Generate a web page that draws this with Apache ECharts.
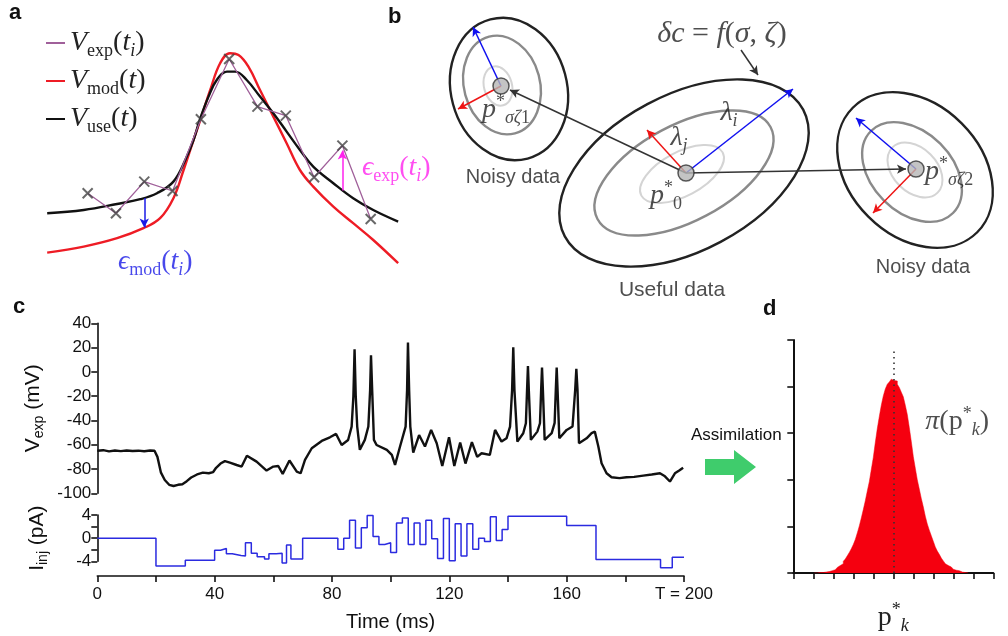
<!DOCTYPE html>
<html><head><meta charset="utf-8">
<script src="https://cdn.jsdelivr.net/npm/echarts@6/dist/echarts.min.js"></script>
<style>html,body{margin:0;padding:0;background:#fff}#c{width:1008px;height:636px}</style>
</head><body><div id="c"></div>
<script>
// ---------- Panel a : sample times, experimental points, model / useful curves ----------
const aCrossT = [1, 2, 3, 4, 5, 6, 7, 8, 9, 10, 11];
const aCrossV = [38.4, 28.4, 44.2, 39.5, 75.4, 105.5, 81.7, 77.2, 46.4, 62.2, 25.5];
const aUseT = [-0.43, 0.86, 2.04, 2.86, 3.45, 4.03, 4.45, 4.74, 4.98, 5.27, 5.56, 5.92, 6.21, 6.62, 7.09, 7.56, 8.03, 8.5, 8.97, 9.68, 10.38, 11.09, 11.97];
const aUseV = [28.4, 30, 33, 35.4, 38.4, 44.2, 55, 65, 75.9, 86.7, 95, 99.2, 99.2, 95, 86.7, 78.4, 69.2, 60, 51.7, 43.4, 35.9, 30, 24.2];
const aModT = [-0.43, 0.86, 2.04, 2.97, 3.56, 4.03, 4.39, 4.74, 4.98, 5.33, 5.68, 6.03, 6.33, 6.68, 7.09, 7.56, 8.03, 8.5, 8.97, 9.68, 10.38, 11.09, 11.97];
const aModV = [8.7, 11.7, 15.9, 20.9, 25.9, 35.9, 50, 65, 75, 90, 103.4, 108.4, 107.5, 101.7, 90, 76.7, 63.4, 50, 41.7, 31.7, 23.4, 15, 3.4];
const aEpsModT = 3, aEpsModFrom = 36.0, aEpsModTo = 21.2;
const aEpsExpT = 10, aEpsExpFrom = 39.7, aEpsExpTo = 59.7;

// ---------- Panel b : schematic contours (diagram units) ----------
const bRingX     = [89, 82, 78, 264, 264, 262, 495, 492, 495];
const bRingY     = [89, 85, 86, 173, 173, 174, 170, 172, 170];
const bRingA     = [72, 50, 20, 135, 98, 46, 88, 58, 32];
const bRingB     = [58, 38, 14, 78, 48, 22, 66, 40, 22];
const bRingAngle = [105, 105, 105, 28, 28, 28, 135, 135, 135];
const bRingLevel = [0, 1, 2, 0, 1, 2, 0, 1, 2];
const bDotX = [81, 266, 496];
const bDotY = [86, 173, 169];
const bArrowFrom = [[81, 86], [266, 173], [496, 169], [81, 86], [266, 173], [496, 169], [266, 173], [266, 173], [321, 50]];
const bArrowTo   = [[53, 27], [373, 89], [436, 118], [38, 109], [227, 130], [453, 213], [90, 90], [486, 169], [338, 75]];
const bArrowKind = [0, 0, 0, 1, 1, 1, 2, 2, 2];

// ---------- Panel c : recorded voltage and injected current ----------
const vTime = [0, 2, 4, 6, 8, 10, 12, 14, 16, 18, 19.5, 20.5, 21.7, 23, 24.5, 26, 27.5, 29, 30.5, 32, 34, 36, 38, 39.5, 40.5, 42, 43.5, 45.2, 47.5, 49.2, 51, 51.5, 54.3, 57.7, 60, 61.7, 63.2, 65.5, 68, 69.3, 70.8, 73.1, 76.5, 79.3, 81.4, 83.3, 85.5, 86.7, 87.3, 87.7, 88.1, 88.6, 89.5, 91.2, 92.4, 93.0, 93.3, 93.7, 94.3, 95.2, 98.7, 100.4, 101.5, 103.2, 105.1, 105.6, 105.9, 106.3, 106.7, 107.7, 109.7, 111.7, 113.8, 115.7, 117.6, 119.9, 121.7, 123.7, 125.5, 127.7, 129.5, 131, 133.8, 135.6, 137.8, 139.5, 140.7, 141.4, 141.8, 142.2, 143.2, 145.2, 146.1, 146.5, 146.8, 147.1, 147.8, 150, 150.9, 151.3, 151.6, 151.9, 152.5, 154.9, 155.9, 156.3, 156.6, 156.9, 157.5, 160, 162, 162.9, 163.3, 163.7, 164.2, 166.8, 168.5, 169.6, 170.8, 171.9, 173.6, 175.3, 178, 180.4, 183, 186.1, 189, 191.8, 193.5, 195.2, 196.9, 198.5, 199.7];
const vMv = [-65, -64.5, -65.5, -64.8, -65.3, -64.7, -65.2, -64.9, -65.4, -64.8, -65, -70, -83, -89, -93, -94, -93, -92.5, -90, -87, -84.5, -83, -83.5, -82.5, -79, -75.5, -73.5, -74.8, -76.7, -78, -69, -68.4, -73.9, -81.3, -78, -77.5, -84, -73, -82.1, -83.5, -72.5, -62.9, -56.9, -53.9, -51.1, -60.2, -56.1, -45.1, -20, 18.6, -20, -45, -64.2, -56, -45, -15, 13.7, -15, -56, -60.2, -64.3, -68.4, -76.6, -61.5, -45.1, -15, 24.1, -15, -45, -66.5, -52, -61.5, -47.8, -58.8, -77.5, -53.9, -77.5, -58.2, -75.5, -57.8, -70, -67, -68.4, -47.8, -57.4, -54.7, -45.1, -15, 20.3, -15, -57.4, -50.5, -42.3, -15, 4.9, -15, -56, -49.2, -42.3, -15, 3.6, -15, -56, -50.5, -42, -15, 3.6, -15, -54.7, -47.8, -45, -15, 2.5, -15, -58.8, -54.7, -50.5, -49.2, -61.5, -75.2, -83.5, -86.8, -87.5, -86.8, -86.5, -85.4, -84.5, -83.5, -86, -90.3, -83.5, -81, -78.9];
const iTime = [0, 20, 30, 40, 42, 44, 46, 49, 50.5, 52.5, 54.5, 57, 58.5, 61, 63, 64.5, 66, 70, 82, 84, 86, 88, 90, 92, 94, 96, 98, 100, 102, 104, 106, 108, 110, 112, 114, 116, 118, 120, 122, 124, 126, 128, 130, 132, 134, 136, 138, 140, 160, 170, 192, 196, 200];
const iPa   = [0, -4.8, -3.8, -2.1, -1.8, -2.7, -3.0, -3.1, -0.8, -2.6, -3.2, -3.6, -2.7, -2.6, -4.3, -1.2, -3.6, 0, -1.9, 0, 3.1, -1.7, 1.8, 3.9, 0.3, -1.1, -0.8, -2.5, 2.6, 3.5, -1.1, 2.6, -1.1, 3.1, -0.1, -3.5, 3.4, -3.9, 2.5, -3.1, 2.5, -1.9, 0, -0.6, 3.7, -0.4, 1.5, 3.8, 2.2, -3.7, -5.1, -3.3, -3.3];

// ---------- Panel d : posterior histogram ----------
const hBin = [1.05, 1.15, 1.25, 1.35, 1.45, 1.55, 1.65, 1.75, 1.85, 1.95, 2.05, 2.15, 2.25, 2.35, 2.45, 2.55, 2.65, 2.75, 2.85, 2.95, 3.05, 3.15, 3.25, 3.35, 3.45, 3.55, 3.65, 3.75, 3.85, 3.95, 4.05, 4.15, 4.25, 4.35, 4.45, 4.55, 4.65, 4.75, 4.85, 4.95, 5.05, 5.15, 5.25, 5.35, 5.45, 5.55, 5.65, 5.75, 5.85, 5.95, 6.05, 6.15, 6.25, 6.35, 6.45, 6.55, 6.65, 6.75, 6.85, 6.95, 7.05, 7.15, 7.25, 7.35, 7.45, 7.55, 7.65, 7.75, 7.85, 7.95, 8.05, 8.15, 8.25, 8.35, 8.45, 8.55, 8.65, 8.75];
const hCount = [0, 0, 0.01, 0.01, 0.01, 0.02, 0.02, 0.03, 0.04, 0.05, 0.07, 0.09, 0.12, 0.16, 0.2, 0.25, 0.3, 0.37, 0.44, 0.52, 0.61, 0.72, 0.86, 1.01, 1.18, 1.36, 1.55, 1.76, 1.96, 2.22, 2.48, 2.8, 3.1, 3.36, 3.6, 3.8, 3.95, 4.05, 4.1, 4.16, 4.13, 4.12, 4.05, 3.98, 3.88, 3.78, 3.6, 3.4, 3.12, 2.82, 2.5, 2.25, 2.0, 1.8, 1.6, 1.42, 1.22, 1.05, 0.92, 0.8, 0.68, 0.56, 0.47, 0.4, 0.32, 0.26, 0.2, 0.16, 0.13, 0.1, 0.08, 0.06, 0.05, 0.03, 0.02, 0.01, 0.01, 0];
const hMean = 5, hMeanTop = 4.83;

// ---------- styles ----------
const SERIF = 'Liberation Serif, DejaVu Serif, serif';
const SANS = 'Liberation Sans, Arial, sans-serif';
const mathRich = {
  i:  {fontFamily: SERIF, fontStyle: 'italic', fontSize: 28, lineHeight: 34},
  n:  {fontFamily: SERIF, fontSize: 28, lineHeight: 34},
  s:  {fontFamily: SERIF, fontSize: 18, lineHeight: 18, verticalAlign: 'bottom'},
  si: {fontFamily: SERIF, fontStyle: 'italic', fontSize: 18, lineHeight: 18, verticalAlign: 'bottom'},
  sup:{fontFamily: SERIF, fontSize: 18, lineHeight: 18, verticalAlign: 'top'}
};
const sansRich = {
  n: {fontFamily: SANS, fontSize: 21, lineHeight: 26},
  s: {fontFamily: SANS, fontSize: 14, lineHeight: 14, verticalAlign: 'bottom'}
};
const ringStroke = ['#222222', '#8a8a8a', '#d4d4d4'];
const ringWidth = [2.4, 2.4, 2];
const arrowColor = ['#1010f0', '#ee1515', '#333333'];

const zip = (a, b) => a.map((v, k) => [v, b[k]]);
const hidden = {show: false};

const chart = echarts.init(document.getElementById('c'), null, {renderer: 'canvas'});
chart.setOption({
  animation: false,
  backgroundColor: '#fff',
  textStyle: {fontFamily: SANS},
  legend: {
    data: ['Vexp', 'Vmod', 'Vuse'], orient: 'vertical', left: 41, top: 24,
    icon: 'rect', itemWidth: 19, itemHeight: 2, itemGap: 7,
    textStyle: {color: '#222', rich: mathRich},
    formatter: name => ({
      Vexp: '{i|V}{s|exp}{n|(}{i|t}{si|i}{n|)}',
      Vmod: '{i|V}{s|mod}{n|(}{i|t}{n|)}',
      Vuse: '{i|V}{s|use}{n|(}{i|t}{n|)}'
    })[name]
  },
  grid: [
    {left: 45.2, top: 50, width: 353.8, height: 220},
    {left: 420, top: 0, width: 588, height: 300},
    {left: 97.3, top: 323.3, width: 586.7, height: 170},
    {left: 97.3, top: 515, width: 586.7, height: 46.3},
    {left: 97.3, top: 560, width: 586.7, height: 16},
    {left: 793.3, top: 340, width: 200, height: 239}
  ],
  xAxis: [
    {gridIndex: 0, type: 'value', min: -0.5, max: 12, show: false},
    {gridIndex: 1, type: 'value', min: 0, max: 588, show: false},
    {gridIndex: 2, type: 'value', min: 0, max: 200, show: false},
    {gridIndex: 3, type: 'value', min: 0, max: 200, show: false},
    {gridIndex: 4, type: 'value', min: 0, max: 200, interval: 20, position: 'bottom',
      axisLine: {lineStyle: {color: '#111', width: 1.6}},
      axisTick: {length: 6, lineStyle: {color: '#111', width: 1.6}},
      splitLine: hidden,
      axisLabel: {fontSize: 17, color: '#111', margin: 10,
        formatter: v => v === 200 ? 'T = 200' : (v % 40 === 0 ? String(v) : '')},
      name: 'Time (ms)', nameLocation: 'middle', nameGap: 36,
      nameTextStyle: {fontSize: 20, color: '#111'}},
    {gridIndex: 5, type: 'value', min: 0, max: 10, interval: 1,
      axisLine: {lineStyle: {color: '#111', width: 2}},
      axisTick: {length: 6, lineStyle: {color: '#111', width: 1.6}},
      axisLabel: hidden, splitLine: hidden,
      name: '{n|p}{sup|*}{si|k}', nameLocation: 'middle', nameGap: 28,
      nameTextStyle: {color: '#222', rich: mathRich}}
  ],
  yAxis: [
    {gridIndex: 0, type: 'value', min: 0, max: 110, show: false},
    {gridIndex: 1, type: 'value', min: 0, max: 300, inverse: true, show: false},
    {gridIndex: 2, type: 'value', min: -100, max: 40, interval: 20,
      axisLine: {show: true, lineStyle: {color: '#111', width: 1.6}},
      axisTick: {show: true, length: 6, lineStyle: {color: '#111', width: 1.6}},
      splitLine: hidden,
      axisLabel: {fontSize: 17, color: '#111', margin: 6},
      name: '{n|V}{s|exp}{n| (mV)}', nameLocation: 'middle', nameGap: 47, nameRotate: 90,
      nameTextStyle: {color: '#111', rich: sansRich}},
    {gridIndex: 3, type: 'value', min: -4, max: 4, interval: 2,
      axisLine: {show: true, lineStyle: {color: '#111', width: 1.6}},
      axisTick: {show: true, length: 6, lineStyle: {color: '#111', width: 1.6}},
      splitLine: hidden,
      axisLabel: {fontSize: 17, color: '#111', margin: 6, formatter: v => (v % 4 === 0 ? String(v) : '')},
      name: '{n|I}{s|inj}{n| (pA)}', nameLocation: 'middle', nameGap: 47, nameRotate: 90,
      nameTextStyle: {color: '#111', rich: sansRich}},
    {gridIndex: 4, type: 'value', min: 0, max: 1, show: false},
    {gridIndex: 5, type: 'value', min: 0, max: 5, interval: 1,
      axisLine: {show: true, lineStyle: {color: '#111', width: 2}},
      axisTick: {show: true, length: 6, lineStyle: {color: '#111', width: 1.6}},
      axisLabel: hidden, splitLine: hidden}
  ],
  series: [
    // ----- panel a -----
    {name: 'Vmod', type: 'line', xAxisIndex: 0, yAxisIndex: 0, data: zip(aModT, aModV),
      smooth: 0.4, symbol: 'none', color: '#ee1c25', lineStyle: {width: 2.4}, clip: false, z: 3},
    {name: 'Vuse', type: 'line', xAxisIndex: 0, yAxisIndex: 0, data: zip(aUseT, aUseV),
      smooth: 0.4, symbol: 'none', color: '#111', lineStyle: {width: 2.4}, clip: false, z: 4},
    {name: 'Vexp', type: 'line', xAxisIndex: 0, yAxisIndex: 0, data: zip(aCrossT, aCrossV),
      symbol: 'none', color: '#a0609a', lineStyle: {width: 1.3}, clip: false, z: 5,
      markLine: {silent: true, symbol: ['none', 'arrow'], symbolSize: [7, 9], label: {show: false},
        data: [
          [{coord: [aEpsModT, aEpsModFrom]}, {coord: [aEpsModT, aEpsModTo], lineStyle: {color: '#1a1ae6', width: 1.5, type: 'solid'}}],
          [{coord: [aEpsExpT, aEpsExpFrom]}, {coord: [aEpsExpT, aEpsExpTo], lineStyle: {color: '#ff22ee', width: 1.5, type: 'solid'}}]
        ]}},
    {name: 'crosses', type: 'scatter', xAxisIndex: 0, yAxisIndex: 0, data: zip(aCrossT, aCrossV),
      symbol: 'path://M0 0L10 10M10 0L0 10', symbolSize: 10,
      itemStyle: {color: '#444', borderColor: '#444', borderWidth: 2}, z: 6},
    {name: 'aLabels', type: 'scatter', xAxisIndex: 0, yAxisIndex: 0, symbolSize: 0, silent: true, z: 7,
      data: [
        {value: [aEpsModT + 0.39, 4], label: {show: true, position: 'inside', color: '#1a1ae6', rich: mathRich,
          formatter: '{i|ϵ}{s|mod}{n|(}{i|t}{si|i}{n|)}'}},
        {value: [aEpsExpT + 0.69, 51], label: {show: true, position: 'right', distance: 0, color: '#ff22ee', rich: mathRich,
          formatter: '{i|ϵ}{s|exp}{n|(}{i|t}{si|i}{n|)}'}}
      ]},
    // ----- panel b -----
    {name: 'rings', type: 'custom', xAxisIndex: 1, yAxisIndex: 1, silent: true, z: 2,
      data: bRingX.map((x, k) => [x, bRingY[k], bRingA[k], bRingB[k], bRingAngle[k], bRingLevel[k]]),
      renderItem: (params, api) => {
        const c = api.coord([api.value(0), api.value(1)]);
        const s = api.size([api.value(2), api.value(3)]);
        const lv = api.value(5);
        return {type: 'ellipse', x: c[0], y: c[1], rotation: api.value(4) * Math.PI / 180,
          shape: {cx: 0, cy: 0, rx: s[0], ry: s[1]},
          style: {fill: 'none', stroke: ringStroke[lv], lineWidth: ringWidth[lv]}};
      },
      markLine: {silent: true, symbol: ['none', 'arrow'], symbolSize: [7, 9], label: {show: false},
        data: bArrowFrom.map((f, k) => [{coord: f}, {coord: bArrowTo[k],
          lineStyle: {color: arrowColor[bArrowKind[k]], width: 1.5, type: 'solid'},
          itemStyle: {color: arrowColor[bArrowKind[k]]}}])}},
    {name: 'bDots', type: 'scatter', xAxisIndex: 1, yAxisIndex: 1, data: zip(bDotX, bDotY),
      symbolSize: 16, itemStyle: {color: '#b5b5b5', borderColor: '#333', borderWidth: 1.5}, z: 5},
    {name: 'bLabels', type: 'scatter', xAxisIndex: 1, yAxisIndex: 1, symbolSize: 0, silent: true, z: 6,
      label: {show: true, position: 'inside', color: '#222', rich: Object.assign({}, mathRich, {
        t: {fontFamily: SANS, fontSize: 20, lineHeight: 24},
        u: {fontFamily: SANS, fontSize: 21, lineHeight: 24},
        b: {fontFamily: SERIF, fontStyle: 'italic', fontSize: 30, lineHeight: 36},
        bn: {fontFamily: SERIF, fontSize: 30, lineHeight: 36}})},
      data: [
        {value: [86, 110], label: {formatter: '{i|p}{sup|*}{si|σζ}{s|1}'}},
        {value: [505, 172], label: {position: 'right', distance: 0, formatter: '{i|p}{sup|*}{si|σζ}{s|2}'}},
        {value: [246, 196], label: {formatter: '{i|p}{sup|*}{s|0}'}},
        {value: [309, 113], label: {formatter: '{i|λ}{si|i}'}},
        {value: [259, 138], label: {formatter: '{i|λ}{si|j}'}},
        {value: [302, 34], label: {formatter: '{b|δc}{bn| = }{b|f}{bn|(}{b|σ}{bn|, }{b|ζ}{bn|)}'}},
        {value: [93, 177], label: {formatter: '{t|Noisy data}'}},
        {value: [252, 290], label: {formatter: '{u|Useful data}'}},
        {value: [503, 267], label: {formatter: '{t|Noisy data}'}}
      ]},
    // ----- panel c -----
    {name: 'Vtrace', type: 'line', xAxisIndex: 2, yAxisIndex: 2, data: zip(vTime, vMv),
      symbol: 'none', color: '#111', lineStyle: {width: 2.4}, clip: false},
    {name: 'Iinj', type: 'line', xAxisIndex: 3, yAxisIndex: 3, data: zip(iTime, iPa), step: 'end',
      symbol: 'none', color: '#2b2be0', lineStyle: {width: 1.5}, clip: false},
    // ----- panel d -----
    {name: 'hist', type: 'line', xAxisIndex: 5, yAxisIndex: 5, data: zip(hBin, hCount), step: 'middle',
      symbol: 'none', color: '#f5000f', lineStyle: {width: 0.5, color: '#f5000f'},
      areaStyle: {color: '#f5000f', opacity: 1},
      markLine: {silent: true, symbol: 'none', label: {show: false},
        lineStyle: {color: '#333', width: 1.6, type: [1.5, 4]},
        data: [[{coord: [hMean, 0]}, {coord: [hMean, hMeanTop]}]]}},
    {name: 'dLabel', type: 'scatter', xAxisIndex: 5, yAxisIndex: 5, symbolSize: 0, silent: true,
      data: [{value: [6.6, 3.24], label: {show: true, position: 'right', distance: 0, color: '#222', rich: mathRich,
        formatter: '{i|π}{n|(p}{sup|*}{si|k}{n|)}'}}]}
  ],
  graphic: [
    {type: 'text', left: 9, top: 2, style: {text: 'a', font: 'bold 22px ' + SANS, fill: '#111'}},
    {type: 'text', left: 388, top: 6, style: {text: 'b', font: 'bold 22px ' + SANS, fill: '#111'}},
    {type: 'text', left: 13, top: 296, style: {text: 'c', font: 'bold 22px ' + SANS, fill: '#111'}},
    {type: 'text', left: 763, top: 298, style: {text: 'd', font: 'bold 22px ' + SANS, fill: '#111'}},
    {type: 'text', left: 691, top: 427, style: {text: 'Assimilation', font: '17px ' + SANS, fill: '#111'}},
    {type: 'polygon', shape: {points: [[705, 459], [734, 459], [734, 450], [756, 467], [734, 484], [734, 475], [705, 475]]},
      style: {fill: '#3fcc6c'}}
  ]
});
</script></body></html>
